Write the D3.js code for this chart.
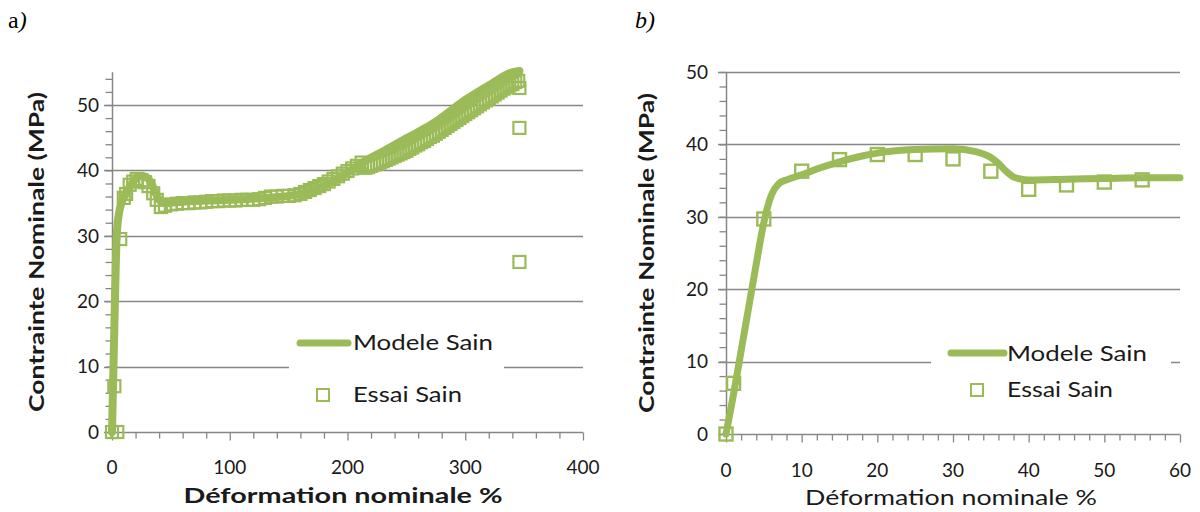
<!DOCTYPE html>
<html>
<head>
<meta charset="utf-8">
<script src="https://cdn.jsdelivr.net/npm/d3@7"></script>
<style>
  html, body { margin: 0; padding: 0; background: #fff; }
  svg { display: block; }
  text { font-family: Lato, "Open Sans", sans-serif; }
  text.panel { font-family: "Liberation Serif", "Times New Roman", serif; font-size: 24px; }
</style>
</head>
<body>
<svg id="chart" width="1200" height="512"></svg>
<script>
// ---------------- DATA ----------------
// Panel a) : Modele Sain (simulation) — strain %, stress MPa
const aModelStrain = [0, 1, 2, 3, 4, 6, 8, 12, 16, 20, 25, 29, 33, 37, 41, 46, 60, 80, 100, 130, 150, 165, 180, 195, 210, 230, 250, 272, 301, 320, 340, 346];
const aModelStress = [0, 8, 16, 24, 30, 33.5, 35, 36.5, 37.8, 38.7, 39.2, 39, 38.2, 36.5, 35.3, 35, 35.2, 35.4, 35.5, 35.8, 36.1, 36.6, 37.6, 39, 40.9, 42.9, 44.9, 47.1, 50.9, 53.0, 55.0, 55.2];

// Panel a) : Essai Sain (experiment)
const aTestStrain = [0, 4.5, 2, 7, 10, 12, 15, 18, 21, 25, 28, 31, 35, 38, 41.5,
  45, 50, 55, 60, 65, 70, 75, 80, 85, 90, 95, 100, 105, 110, 115, 120, 125, 130, 135, 140, 145, 150,
  155, 160, 164, 168, 172, 176, 180, 184, 188, 192, 196, 200, 204, 208, 212,
  215, 217.5, 220, 222.5, 225, 227.5, 230, 232.5, 235, 237.5, 240, 242.5, 245, 247.5, 250, 252.5, 255, 257.5,
  260, 262.5, 265, 267.5, 270, 272.5, 275, 277.5, 280, 282.5, 285, 287.5, 290, 292.5, 295, 297.5,
  300, 302.5, 305, 307.5, 310, 312.5, 315, 317.5, 320, 322.5, 325, 327.5, 330, 332.5, 335, 337.5,
  340, 342.5, 345, 346, 346, 346];
const aTestStress = [0, 0, 7, 29.5, 35.8, 36.4, 37.8, 38.3, 38.7, 38.5, 38.2, 37.6, 36.5, 35.5, 34.4,
  34.6, 34.8, 34.9, 35.0, 35.0, 35.1, 35.1, 35.2, 35.3, 35.3, 35.4, 35.4, 35.4, 35.5, 35.5, 35.5, 35.6, 35.8, 36.0, 36.0, 36.1, 36.1,
  36.2, 36.4, 36.7, 37.0, 37.3, 37.6, 37.9, 38.3, 38.7, 39.1, 39.5, 39.9, 40.3, 40.7, 41.2,
  40.4, 40.5, 40.7, 40.9, 41.0, 41.2, 41.4, 41.6, 41.8, 42.0, 42.2, 42.4, 42.6, 42.8, 43.0, 43.3, 43.5, 43.8,
  44.0, 44.3, 44.5, 44.8, 45.1, 45.3, 45.6, 45.9, 46.2, 46.5, 46.8, 47.1, 47.4, 47.7, 48.0, 48.3,
  48.6, 48.9, 49.2, 49.5, 49.8, 50.1, 50.4, 50.7, 51.0, 51.3, 51.6, 51.9, 52.2, 52.5, 52.7, 53.0,
  53.2, 53.5, 53.7, 52.6, 46.5, 26.0];

// Panel b) : Modele Sain
const bModelStrain = [0, 1, 2, 3, 4, 5, 6, 7, 8, 10, 12, 15, 18, 20, 25, 30, 33, 35, 36, 37, 38, 39, 40, 45, 50, 55, 60];
const bModelStress = [0, 5.5, 11.5, 17.5, 23.5, 29.2, 33, 34.6, 35.1, 35.8, 36.6, 37.6, 38.4, 38.8, 39.3, 39.4, 39.0, 38.2, 37.4, 36.3, 35.5, 35.2, 35.1, 35.2, 35.3, 35.4, 35.4];

// Panel b) : Essai Sain
const bTestStrain = [0, 1, 5, 10, 15, 20, 25, 30, 35, 40, 45, 50, 55];
const bTestStress = [0, 7, 29.7, 36.3, 37.9, 38.6, 38.6, 38.0, 36.3, 33.8, 34.4, 34.8, 35.1];

// Axis ticks / labels
const aXTicks = [0, 100, 200, 300, 400];
const aYTicks = [0, 10, 20, 30, 40, 50];
const bXTicks = [0, 10, 20, 30, 40, 50, 60];
const bYTicks = [0, 10, 20, 30, 40, 50];

const panelLabels = ["a", "b"];
const seriesNames = ["Modele Sain", "Essai Sain"];
const yTitle = "Contrainte Nominale (MPa)";
const xTitle = "Déformation nominale %";

// ---------------- DRAWING ----------------
const GREEN = "#9bbb59";
const GRID = "#878787";
const TXT = "#1a1a1a";
const svg = d3.select("#chart");

function zip(xs, ys) { return xs.map((x, i) => [x, ys[i]]); }

function drawPanel(cfg) {
  const g = svg.append("g");
  const x = d3.scaleLinear().domain(cfg.xDomain).range(cfg.xRange);
  const y = d3.scaleLinear().domain(cfg.yDomain).range(cfg.yRange);
  const x0 = cfg.xRange[0], x1 = cfg.xRange[1];
  const y0 = cfg.yRange[0], y1 = cfg.yRange[1];

  // gridlines
  g.append("g").selectAll("line").data(cfg.yTicks.filter(d => d > 0)).join("line")
    .attr("x1", x0 - 8).attr("x2", x1)
    .attr("y1", d => Math.round(y(d)) + 0.5).attr("y2", d => Math.round(y(d)) + 0.5)
    .attr("stroke", GRID).attr("stroke-width", 1.3);

  // y minor ticks
  const yMinor = d3.range(cfg.yDomain[0], cfg.yDomain[1] + 0.001, cfg.yMinor);
  const yAxis = d3.axisLeft(y).tickValues(yMinor).tickSize(7).tickFormat("");
  const ya = g.append("g").attr("transform", `translate(${x0 + 0.5},0)`).call(yAxis);
  ya.selectAll("line").attr("stroke", GRID).attr("stroke-width", 1.3);
  ya.select(".domain").attr("stroke", GRID).attr("stroke-width", 1.5).attr("d", `M0,${y0 + 0.5}V${y1}`);

  // y labels
  g.append("g").selectAll("text").data(cfg.yTicks).join("text")
    .attr("x", cfg.yLabelX).attr("y", d => y(d)).attr("dy", "0.36em")
    .attr("text-anchor", "end").attr("font-size", cfg.tickFont).attr("fill", TXT)
    .text(d => d);

  // x axis
  const xMinor = d3.range(cfg.xDomain[0], cfg.xDomain[1] + 0.001, cfg.xMinor);
  const xAxis = d3.axisBottom(x).tickValues(xMinor).tickSize(6).tickFormat("");
  const xa = g.append("g").attr("transform", `translate(0,${Math.round(y0) + 0.5})`).call(xAxis);
  xa.selectAll("line").attr("stroke", GRID).attr("stroke-width", 1.3);
  xa.select(".domain").attr("stroke", GRID).attr("stroke-width", 1.5).attr("d", `M${x0 - 8},0H${x1}`);
  xa.selectAll(".tick").filter(d => cfg.xTicks.includes(d)).select("line").attr("y2", 8);

  g.append("g").selectAll("text").data(cfg.xTicks).join("text")
    .attr("x", d => x(d)).attr("y", cfg.xLabelY).attr("dy", "0.36em")
    .attr("text-anchor", "middle").attr("font-size", cfg.tickFont).attr("fill", TXT)
    .text(d => d);

  // legend background (covers gridline)
  g.append("rect").attr("x", cfg.legend.bx).attr("y", cfg.legend.by)
    .attr("width", cfg.legend.bw).attr("height", cfg.legend.bh).attr("fill", "#fff");

  const line = d3.line().x(d => x(d[0])).y(d => y(d[1])).curve(d3.curveMonotoneX);
  const s = cfg.marker;
  g.append("g").selectAll("rect").data(zip(cfg.testX, cfg.testY)).join("rect")
    .attr("x", d => x(d[0]) - s / 2).attr("y", d => y(d[1]) - s / 2)
    .attr("width", s).attr("height", s)
    .attr("fill", "none").attr("stroke", GREEN).attr("stroke-width", cfg.markerStroke);
  g.append("path").datum(zip(cfg.modelX, cfg.modelY))
    .attr("d", line).attr("fill", "none").attr("stroke", GREEN)
    .attr("stroke-width", cfg.lineWidth).attr("stroke-linejoin", "round").attr("stroke-linecap", "round");

  // legend
  const L = cfg.legend;
  g.append("line").attr("x1", L.lx1).attr("x2", L.lx2).attr("y1", L.ly).attr("y2", L.ly)
    .attr("stroke", GREEN).attr("stroke-width", 7).attr("stroke-linecap", "round");
  g.append("text").attr("x", L.tx).attr("y", L.t1y).attr("font-size", L.font).attr("fill", TXT)
    .attr("textLength", L.t1len).attr("lengthAdjust", "spacingAndGlyphs").text(seriesNames[0]);
  g.append("rect").attr("x", L.mx - 6).attr("y", L.my - 6).attr("width", 12).attr("height", 12)
    .attr("fill", "none").attr("stroke", GREEN).attr("stroke-width", 2);
  g.append("text").attr("x", L.tx).attr("y", L.t2y).attr("font-size", L.font).attr("fill", TXT)
    .attr("textLength", L.t2len).attr("lengthAdjust", "spacingAndGlyphs").text(seriesNames[1]);

  // axis titles
  g.append("text").attr("transform", `translate(${cfg.yTitleX},${cfg.yTitleY}) rotate(-90)`)
    .attr("text-anchor", "middle").attr("font-size", cfg.yTitleFont).attr("font-weight", "bold").attr("fill", TXT)
    .attr("textLength", cfg.yTitleLen).attr("lengthAdjust", "spacingAndGlyphs").text(yTitle);
  g.append("text").attr("x", cfg.xTitleX).attr("y", cfg.xTitleY)
    .attr("text-anchor", "middle").attr("font-size", cfg.xTitleFont).attr("font-weight", cfg.xTitleWeight).attr("fill", TXT)
    .attr("textLength", cfg.xTitleLen).attr("lengthAdjust", "spacingAndGlyphs").text(xTitle);

  // panel label
  const pl = g.append("text").attr("class", "panel").attr("x", cfg.panelX).attr("y", 28).attr("fill", "#000");
  pl.append("tspan").style("font-style", cfg.panelItalic ? "italic" : "normal").text(cfg.panelLabel);
  pl.append("tspan").style("font-style", "italic").text(")");
}

drawPanel({
  xDomain: [0, 400], xRange: [112, 583], yDomain: [0, 55], yRange: [432, 72.3],
  xMinor: 20, yMinor: 2, xTicks: aXTicks, yTicks: aYTicks,
  yLabelX: 99, xLabelY: 467, tickFont: 19,
  modelX: aModelStrain, modelY: aModelStress, testX: aTestStrain, testY: aTestStress,
  marker: 12, markerStroke: 2.2, lineWidth: 8,
  legend: { bx: 289, by: 322, bw: 215, bh: 92, lx1: 300, lx2: 348, ly: 343, tx: 353, t1y: 350, t2y: 402,
            t1len: 140, t2len: 109, mx: 323, my: 395, font: 21 },
  yTitleX: 44, yTitleY: 252, yTitleLen: 320, yTitleFont: 20,
  xTitleX: 343, xTitleY: 503, xTitleLen: 319, xTitleFont: 21, xTitleWeight: "bold",
  panelX: 8, panelLabel: panelLabels[0], panelItalic: false
});

drawPanel({
  xDomain: [0, 60], xRange: [726, 1180], yDomain: [0, 50], yRange: [434, 72],
  xMinor: 2, yMinor: 2, xTicks: bXTicks, yTicks: bYTicks,
  yLabelX: 708, xLabelY: 470, tickFont: 19,
  modelX: bModelStrain, modelY: bModelStress, testX: bTestStrain, testY: bTestStress,
  marker: 13, markerStroke: 2.4, lineWidth: 7,
  legend: { bx: 931, by: 333, bw: 240, bh: 72, lx1: 951, lx2: 1004, ly: 353, tx: 1007, t1y: 361, t2y: 397,
            t1len: 140, t2len: 106, mx: 977, my: 390, font: 21 },
  yTitleX: 654, yTitleY: 253, yTitleLen: 320, yTitleFont: 20,
  xTitleX: 951, xTitleY: 505, xTitleLen: 292, xTitleFont: 21, xTitleWeight: "normal",
  panelX: 635, panelLabel: panelLabels[1], panelItalic: true
});
</script>
</body>
</html>
